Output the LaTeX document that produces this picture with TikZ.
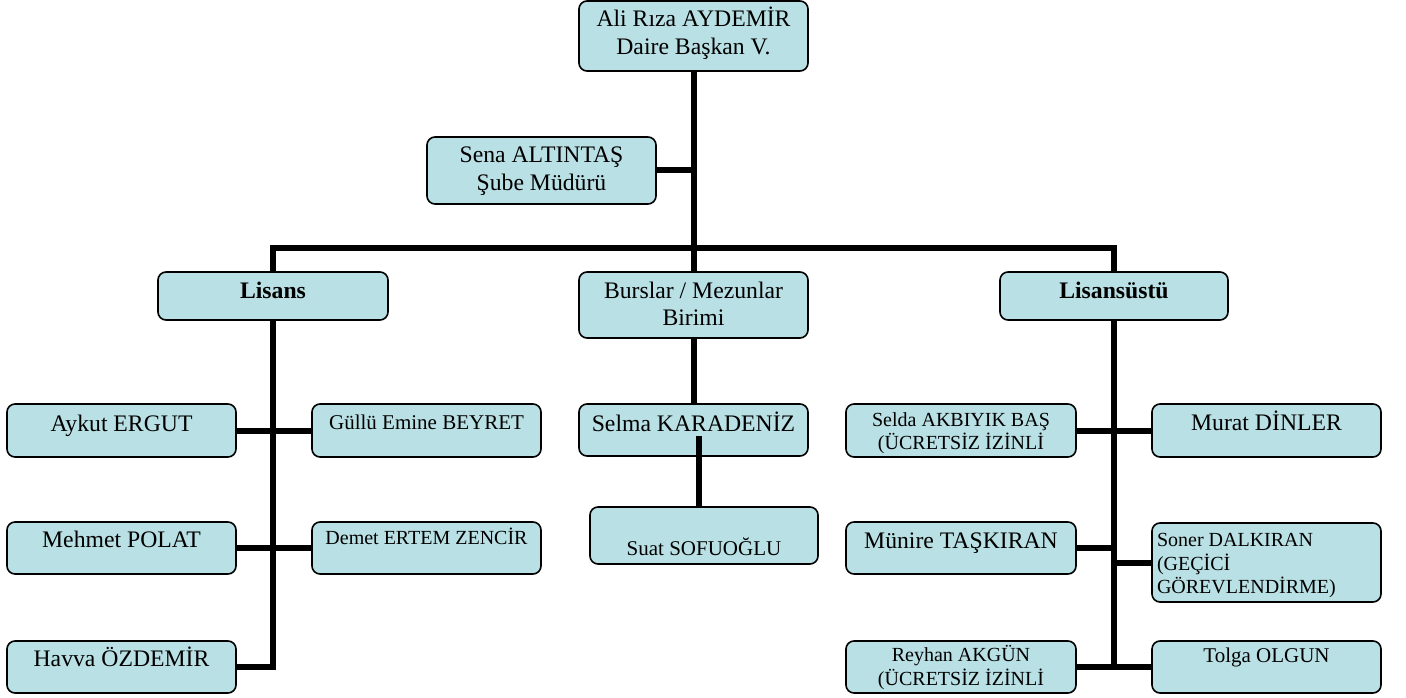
\documentclass[tikz,border=0pt]{standalone}
\usepackage{fontspec}
\setmainfont{Liberation Serif}
\usetikzlibrary{calc}
\definecolor{boxfill}{RGB}{185,224,228}
\newcommand\bt[3]{\raisebox{#1pt}[0pt][0pt]{\begin{tabular}[t]{@{}#2@{}}#3\end{tabular}}}
\begin{document}
\begin{tikzpicture}[x=1pt,y=-1pt,
 orgbox/.style={draw=black, line width=1.6pt, fill=boxfill, rounded corners=8pt, inner sep=0pt, minimum width=229pt, minimum height=53pt, anchor=center},
 big/.style={font=\fontsize{23.7}{27.5}\selectfont},
 small/.style={font=\fontsize{20}{23}\selectfont},
 mid/.style={font=\fontsize{21}{24}\selectfont},
 link/.style={line width=6pt}]
\useasboundingbox (0,0) rectangle (1406,698);
% boxes
\node[orgbox, big, minimum height=70pt] (top) at (693.5,36) {\bt{9}{c}{Ali Rıza AYDEMİR\\Daire Başkan V.}};
\node[orgbox, big, minimum height=67pt] (sena) at (541.5,170.5) {\bt{7.5}{c}{Sena ALTINTAŞ\\Şube Müdürü}};
\node[orgbox, big, minimum height=48pt, minimum width=230pt] (lisans) at (273,296) {\bt{-2}{c}{\textbf{Lisans}}};
\node[orgbox, big, minimum height=66pt] (burslar) at (693.5,305) {\bt{7}{c}{Burslar / Mezunlar\\Birimi}};
\node[orgbox, big, minimum height=48pt, minimum width=228pt] (lisansust) at (1114,296) {\bt{-2}{c}{\textbf{Lisansüstü}}};
\node[orgbox, big] (aykut) at (121.5,430.5) {\bt{-0.5}{c}{Aykut ERGUT}};
\node[orgbox, mid] (gullu) at (426.5,430.5) {\bt{1.5}{c}{Güllü Emine BEYRET}};
\node[orgbox, big, minimum height=52pt] (mehmet) at (121.5,548) {\bt{1}{c}{Mehmet POLAT}};
\node[orgbox, small, minimum height=52pt] (demet) at (426.5,548) {\bt{4}{c}{Demet ERTEM ZENCİR}};
\node[orgbox, big, minimum height=52pt] (havva) at (121.5,667) {\bt{1}{c}{Havva ÖZDEMİR}};
\node[orgbox, big, minimum height=52pt] (selma) at (693.5,430) {\bt{-1}{c}{Selma KARADENİZ}};
\node[orgbox, mid, minimum height=57pt, minimum width=228pt] (suat) at (704,535.5) {\bt{-20}{c}{Suat SOFUOĞLU}};
\node[orgbox, small, minimum width=230pt] (selda) at (961,430.5) {\bt{4.5}{c}{Selda AKBIYIK BAŞ\\(ÜCRETSİZ İZİNLİ}};
\node[orgbox, big] (murat) at (1266.5,430.5) {\bt{0}{c}{Murat DİNLER}};
\node[orgbox, big, minimum height=52pt, minimum width=230pt] (munire) at (961,548) {\bt{0}{c}{Münire TAŞKIRAN}};
\node[orgbox, small, minimum height=79pt] (soner) at (1266.5,562.5) {\raisebox{15.8pt}[0pt][0pt]{\makebox[229pt][l]{\hspace{5pt}\begin{tabular}[t]{@{}l@{}}Soner DALKIRAN\\(GEÇİCİ\\GÖREVLENDİRME)\end{tabular}}}};
\node[orgbox, small, minimum height=52pt, minimum width=230pt] (reyhan) at (961,667) {\bt{5.3}{c}{Reyhan AKGÜN\\(ÜCRETSİZ İZİNLİ}};
\node[orgbox, mid, minimum height=52pt] (tolga) at (1266.5,667) {\bt{4.3}{c}{Tolga OLGUN}};
% connectors
\coordinate (bar) at (693.5,248);
\coordinate (selmajoint) at (699,436);
\draw[link] (top.south) -- (burslar.north);
\draw[link] (sena.east) -- (sena.east -| top.south);
\draw[link] (lisans.north) |- (bar) -| (lisansust.north);
\draw[link] (burslar.south) -- (selma.north);
\draw[link] (selmajoint) -- (selmajoint |- suat.north);
\draw[link] (lisans.south) |- (havva.east);
\draw[link] (aykut.east) -- (gullu.west);
\draw[link] (mehmet.east) -- (demet.west);
\draw[link] (lisansust.south) |- (reyhan.east);
\draw[link] (selda.east) -- (murat.west);
\draw[link] (munire.east) -- (munire.east -| lisansust.south);
\draw[link] (soner.west -| lisansust.south) -- (soner.west);
\draw[link] (tolga.west -| lisansust.south) -- (tolga.west);
\end{tikzpicture}
\end{document}
